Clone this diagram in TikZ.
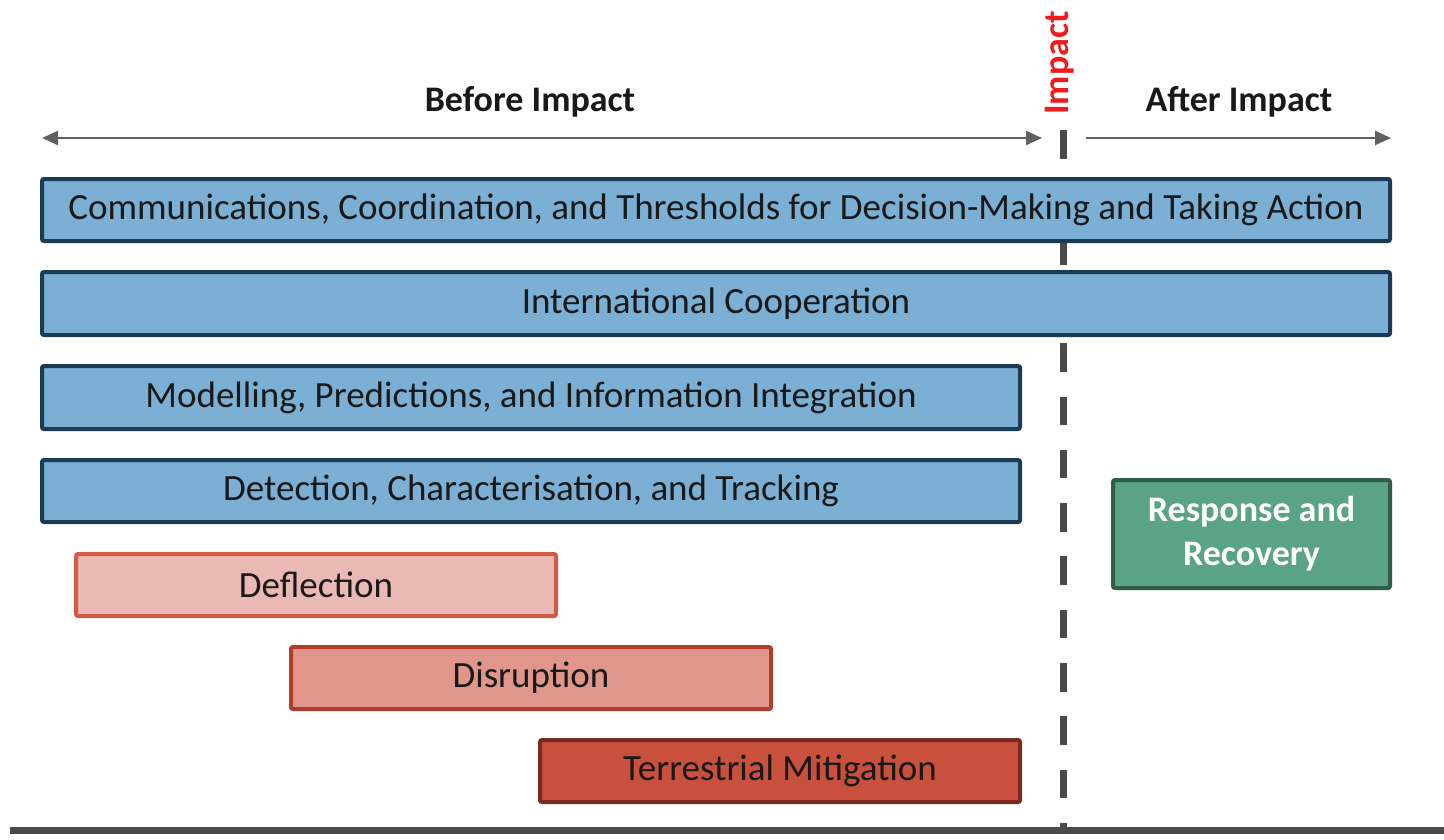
\documentclass[tikz,border=0pt]{standalone}
\usepackage{fontspec}
\setmainfont{Carlito}
\usetikzlibrary{arrows.meta}
\definecolor{bluefill}{HTML}{7BAFD4}
\definecolor{blueline}{HTML}{1B3A56}
\definecolor{deflfill}{HTML}{EBB9B3}
\definecolor{deflline}{HTML}{D45A48}
\definecolor{disrfill}{HTML}{E0968A}
\definecolor{disrline}{HTML}{B03C2C}
\definecolor{terrfill}{HTML}{C9503D}
\definecolor{terrline}{HTML}{7A2A20}
\definecolor{respfill}{HTML}{5BA385}
\definecolor{respline}{HTML}{2E5E4A}
\definecolor{axisgray}{HTML}{4A4A4A}
\definecolor{arrowgray}{HTML}{606060}
\definecolor{impactred}{HTML}{EE1C1C}
\tikzset{
  bar/.style={draw, line width=4pt, rounded corners=2pt, anchor=north west, inner sep=0pt,
    outer sep=0pt, font=\fontsize{37}{40}\selectfont, text=black!90},
  bluebar/.style={bar, fill=bluefill, draw=blueline},
  deflbar/.style={bar, fill=deflfill, draw=deflline},
  disrbar/.style={bar, fill=disrfill, draw=disrline},
  terrbar/.style={bar, fill=terrfill, draw=terrline},
  respbar/.style={bar, fill=respfill, draw=respline, text=white, align=center,
    font=\fontsize{36}{44}\selectfont\bfseries},
  heading/.style={font=\fontsize{36}{40}\selectfont\bfseries, text=black!90},
  spanarrow/.style={draw=arrowgray, line width=2.2pt},
}
\begin{document}
\begin{tikzpicture}[x=1pt,y=-1pt]
\useasboundingbox[fill=white] (0,0) rectangle (1444,839);
% dashed impact line (behind boxes)
\coordinate (dtop) at (1063,130);
\coordinate (dbot) at (1063,830);
\draw[axisgray, line width=7pt, dash pattern=on 28.5pt off 24.8pt] (dtop) -- (dbot);
% bottom axis
\coordinate (axl) at (10,830);
\coordinate (axr) at (1444,830);
\draw[axisgray, line width=7pt] (axl) -- (axr);
% headings
\node[heading] (before) at (530,102) {Before Impact};
\node[heading] (after) at (1239,102) {After Impact};
\node[heading, text=impactred, rotate=90] (impact) at (1060,63) {Impact};
% span arrows
\coordinate (bl) at (42,138);
\coordinate (br) at (1042,138);
\coordinate (al) at (1086,138);
\coordinate (ar) at (1391,138);
\draw[spanarrow, {Triangle[length=16pt,width=14pt]}-{Triangle[length=16pt,width=14pt]}] (bl) -- (br);
\draw[spanarrow, -{Triangle[length=16pt,width=14pt]}] (al) -- (ar);
% bars
\node[bluebar, minimum width=1348pt, minimum height=62pt] (comm) at (42,179)
  {Communications, Coordination, and Thresholds for Decision-Making and Taking Action};
\node[bluebar, minimum width=1348pt, minimum height=63pt] (intl) at (42,272)
  {International Cooperation};
\node[bluebar, minimum width=978pt, minimum height=63pt] (model) at (42,366)
  {Modelling, Predictions, and Information Integration};
\node[bluebar, minimum width=978pt, minimum height=62pt] (detect) at (42,460)
  {Detection, Characterisation, and Tracking};
\node[deflbar, minimum width=480pt, minimum height=62pt] (defl) at (76,554)
  {Deflection};
\node[disrbar, minimum width=480pt, minimum height=62pt] (disr) at (291,647)
  {Disruption};
\node[terrbar, minimum width=480pt, minimum height=62pt] (terr) at (540,740)
  {Terrestrial Mitigation};
\node[respbar, minimum width=277pt, minimum height=108pt] (resp) at (1113,480)
  {Response and\\Recovery};
\end{tikzpicture}
\end{document}
